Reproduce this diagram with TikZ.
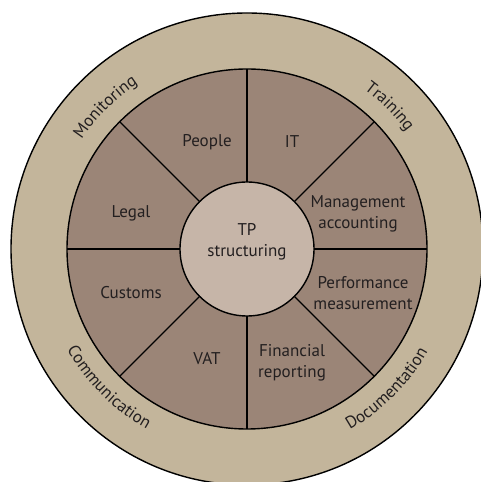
\documentclass[tikz,border=0pt]{standalone}
\usepackage{fontspec}
\setmainfont{PT Sans}
\usetikzlibrary{decorations.text,calc}
\definecolor{outerring}{RGB}{195,181,155}
\definecolor{midring}{RGB}{155,133,119}
\definecolor{innerdisc}{RGB}{198,181,168}
\definecolor{ink}{RGB}{35,31,32}
\begin{document}
\begin{tikzpicture}[x=1pt,y=1pt,
  ringline/.style={draw=black,line width=1.4pt},
  lbl/.style={text=ink,font=\fontsize{17}{20.5}\selectfont,align=center,inner sep=0pt}]
\useasboundingbox (0,0) rectangle (481,482);
\coordinate (c) at (247,233);
\filldraw[fill=outerring,ringline] (c) circle[radius=236];
\filldraw[fill=midring,ringline] (c) circle[radius=180];
\foreach \a in {0,45,...,315}
  \draw[line width=1.4pt] ($(c)+(\a:67)$) -- ($(c)+(\a:180)$);
\filldraw[fill=innerdisc,ringline] (c) circle[radius=67];
\node[lbl] (tp) at (247,240) {TP\\structuring};
\node[lbl] (people) at (207,340) {People};
\node[lbl] (it) at (292,340) {IT};
\node[lbl] (legal) at (131,269) {Legal};
\node[lbl] (mgmt) at (358,268) {Management\\accounting};
\node[lbl] (customs) at (131,189) {Customs};
\node[lbl] (perf) at (363,189) {Performance\\measurement};
\node[lbl] (vat) at (207,123) {VAT};
\node[lbl] (fin) at (292,119) {Financial\\reporting};
\path[decorate,decoration={text along path,text align=center,text color=ink,
  text={|\fontsize{17}{20}\selectfont|Monitoring}}]
  ($(c)+(175:198)$) arc[start angle=175,end angle=95,radius=198];
\path[decorate,decoration={text along path,text align=center,text color=ink,
  text={|\fontsize{17}{20}\selectfont|Training}}]
  ($(c)+(85:198)$) arc[start angle=85,end angle=5,radius=198];
\path[decorate,decoration={text along path,text align=center,text color=ink,
  text={|\fontsize{17}{20}\selectfont|Communication}}]
  ($(c)+(185:206)$) arc[start angle=185,end angle=265,radius=206];
\path[decorate,decoration={text along path,text align=center,text color=ink,
  text={|\fontsize{17}{20}\selectfont|Documentation}}]
  ($(c)+(275:208)$) arc[start angle=275,end angle=355,radius=208];
\end{tikzpicture}
\end{document}
